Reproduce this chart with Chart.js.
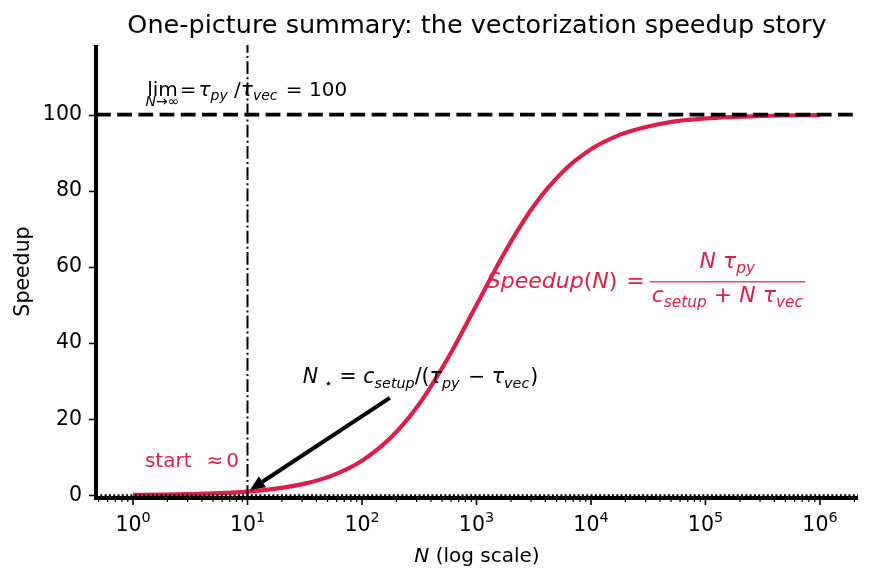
<!DOCTYPE html>
<html>
<head>
<meta charset="utf-8">
<script src="https://cdn.jsdelivr.net/npm/chart.js@4.4.1/dist/chart.umd.min.js"></script>
<style>
  body { margin: 0; background: #fff; }
  canvas { display: block; }
</style>
</head>
<body>
<canvas id="chart" width="869" height="583"></canvas>
<script>
// values
const nValues = [1, 1.778, 3.162, 5.623, 10, 17.78, 31.62, 56.23, 100, 177.8, 316.2, 562.3,
    1000, 1778, 3162, 5623, 1e4, 1.778e4, 3.162e4, 5.623e4, 1e5, 1.778e5, 3.162e5, 5.623e5, 1e6];
const speedupValues = [0.1, 0.18, 0.32, 0.56, 0.99, 1.75, 3.07, 5.32, 9.09, 15.1, 24.0, 36.0,
    50.0, 64.0, 76.0, 84.9, 90.9, 94.7, 96.9, 98.3, 99.0, 99.4, 99.7, 99.8, 99.9];
const limitValue = 100;
const nStar = 10;
const xTicks = [1, 10, 100, 1e3, 1e4, 1e5, 1e6];
const xTickExponents = ['0', '1', '2', '3', '4', '5', '6'];
const yTicks = [0, 20, 40, 60, 80, 100];

const xMin = 0.475, xMax = 2.15e6;
const yMin = -0.7, yMax = 118.3;
const RED = '#dc1e4a';
const FONT = 'DejaVu Sans';

function fnt(size, it) {
    return (it ? 'italic ' : '') + size + 'px "' + FONT + '"';
}
const U = t => ({t: t});
const I = t => ({t: t, it: true});
const S = t => ({t: t, it: true, sub: true});
const G = w => ({gap: w});

function runsWidth(ctx, runs, size) {
    let w = 0;
    for (const r of runs) {
        if (r.gap) { w += r.gap; continue; }
        ctx.font = fnt(r.sub || r.sup ? size * 0.7 : size, r.it);
        w += ctx.measureText(r.t).width;
    }
    return w;
}

function drawRuns(ctx, x, y, runs, size, color) {
    let cx = x;
    ctx.fillStyle = color;
    ctx.textBaseline = 'alphabetic';
    ctx.textAlign = 'left';
    for (const r of runs) {
        if (r.gap) { cx += r.gap; continue; }
        const s = r.sub || r.sup ? size * 0.7 : size;
        ctx.font = fnt(s, r.it);
        const dy = r.sub ? size * 0.22 : (r.sup ? -size * 0.45 : 0);
        ctx.fillText(r.t, cx, y + dy);
        cx += ctx.measureText(r.t).width;
    }
    return cx - x;
}

const decorPlugin = {
    id: 'decor',
    afterDraw(chart) {
        const ctx = chart.ctx;
        const x = chart.scales.x, y = chart.scales.y;
        const a = chart.chartArea;
        ctx.save();

        // spines
        ctx.strokeStyle = '#000';
        ctx.lineWidth = 4;
        ctx.lineCap = 'butt';
        ctx.beginPath();
        ctx.moveTo(a.left, a.top);
        ctx.lineTo(a.left, a.bottom + 2);
        ctx.moveTo(a.left - 2, a.bottom);
        ctx.lineTo(a.right, a.bottom);
        ctx.stroke();

        // tick marks
        ctx.lineWidth = 1.6;
        ctx.beginPath();
        for (const v of yTicks) {
            const py = Math.round(y.getPixelForValue(v)) + 0.5;
            ctx.moveTo(a.left - 7, py);
            ctx.lineTo(a.left, py);
        }
        for (const v of xTicks) {
            const px = x.getPixelForValue(v);
            ctx.moveTo(px, a.bottom);
            ctx.lineTo(px, a.bottom + 7);
        }
        ctx.stroke();
        ctx.lineWidth = 1.2;
        ctx.beginPath();
        for (const d of [0.1].concat(xTicks)) {
            for (let m = 2; m <= 9; m++) {
                const v = d * m;
                if (v < xMin || v > xMax) continue;
                const px = x.getPixelForValue(v);
                ctx.moveTo(px, a.bottom);
                ctx.lineTo(px, a.bottom + 4);
            }
        }
        ctx.stroke();

        // x tick labels as 10 with raised exponent
        xTicks.forEach((v, i) => {
            const lab = [U('10'), {t: xTickExponents[i], sup: true}];
            const lw = runsWidth(ctx, lab, 20.5);
            drawRuns(ctx, x.getPixelForValue(v) - lw / 2, 531, lab, 20.5, '#000');
        });

        // title and axis labels
        ctx.fillStyle = '#000';
        ctx.textAlign = 'center';
        ctx.textBaseline = 'alphabetic';
        ctx.font = fnt(25.5);
        ctx.fillText('One-picture summary: the vectorization speedup story', (a.left + a.right) / 2, 33);

        const xl = [I('N'), U(' (log scale)')];
        const w = runsWidth(ctx, xl, 20);
        drawRuns(ctx, (a.left + a.right) / 2 - w / 2, 562, xl, 20, '#000');

        ctx.save();
        ctx.translate(29, (a.top + a.bottom) / 2);
        ctx.rotate(-Math.PI / 2);
        ctx.textAlign = 'center';
        ctx.font = fnt(20.5);
        ctx.fillStyle = '#000';
        ctx.fillText('Speedup', 0, 0);
        ctx.restore();

        // limit annotation
        let lx = x.getPixelForValue(1.33), ly = y.getPixelForValue(104.9);
        ctx.font = fnt(20);
        ctx.fillStyle = '#000';
        ctx.textAlign = 'left';
        ctx.fillText('lim', lx, ly);
        const limW = ctx.measureText('lim').width;
        const under = [I('N'), U('→∞')];
        const uw = runsWidth(ctx, under, 14);
        drawRuns(ctx, lx + limW / 2 - uw / 2, ly + 10, under, 14, '#000');
        drawRuns(ctx, lx + limW + 2,  ly,
            [U('='), G(2), I('τ'), S('py'), U(' /'), I('τ'), S('vec'), G(2), U(' = 100')], 20, '#000');

        // formula
        const fx = x.getPixelForValue(1230), fy = y.getPixelForValue(56.1);
        const fw = drawRuns(ctx, fx, fy + 6, [I('Speedup'), U('('), I('N'), U(')'), G(9), U('='), G(5)], 22, RED);
        const num = [I('N'), U(' '), I('τ'), S('py')];
        const den = [I('c'), S('setup'), U(' + '), I('N'), U(' '), I('τ'), S('vec')];
        const nw = runsWidth(ctx, num, 22), dw = runsWidth(ctx, den, 22);
        const barW = Math.max(nw, dw) + 4;
        const bx = fx + fw;
        ctx.fillStyle = RED;
        ctx.fillRect(bx, fy - 0.6, barW, 1.2);
        drawRuns(ctx, bx + (barW - nw) / 2, fy - 14, num, 22, RED);
        drawRuns(ctx, bx + (barW - dw) / 2, fy + 20, den, 22, RED);

        // N star annotation
        drawRuns(ctx, x.getPixelForValue(30.4), y.getPixelForValue(29.5),
            [I('N'), G(6), {t: '⋆', sub: true}, U(' = '), I('c'), S('setup'), U('/('), I('τ'), S('py'),
                G(2), U(' − '), I('τ'), S('vec'), G(1), U(')')], 20.5, '#000');

        // arrow
        const tx = x.getPixelForValue(175), ty = y.getPixelForValue(25.6);
        const hx = x.getPixelForValue(10.5), hy = y.getPixelForValue(1.4);
        const ang = Math.atan2(hy - ty, hx - tx);
        const hl = 15, hw = 6.5;
        const bxx = hx - hl * Math.cos(ang), byy = hy - hl * Math.sin(ang);
        ctx.strokeStyle = '#000';
        ctx.lineWidth = 4;
        ctx.beginPath();
        ctx.moveTo(tx, ty);
        ctx.lineTo(bxx, byy);
        ctx.stroke();
        ctx.fillStyle = '#000';
        ctx.beginPath();
        ctx.moveTo(hx, hy);
        ctx.lineTo(bxx + hw * Math.sin(ang), byy - hw * Math.cos(ang));
        ctx.lineTo(bxx - hw * Math.sin(ang), byy + hw * Math.cos(ang));
        ctx.closePath();
        ctx.fill();

        // start text
        drawRuns(ctx, x.getPixelForValue(1.27), y.getPixelForValue(7.4),
            [U('start'), G(15), U('≈'), G(3), U('0')], 20, RED);

        ctx.restore();
    }
};

const curve = nValues.map((n, i) => ({x: n, y: speedupValues[i]}));

new Chart(document.getElementById('chart'), {
    type: 'line',
    data: {
        datasets: [{
            data: [{x: nStar, y: yMin}, {x: nStar, y: yMax}],
            borderColor: '#000',
            borderWidth: 2,
            borderDash: [12.8, 3.2, 2, 3.2],
            pointRadius: 0
        }, {
            data: [{x: xMin, y: limitValue}, {x: xMax, y: limitValue}],
            borderColor: '#000',
            borderWidth: 3.8,
            borderDash: [14.8, 6.4],
            pointRadius: 0
        }, {
            data: [{x: xMin, y: 0}, {x: xMax, y: 0}],
            borderColor: '#000',
            borderWidth: 2,
            borderDash: [2, 2.3],
            pointRadius: 0
        }, {
            data: curve,
            borderColor: RED,
            borderWidth: 4.2,
            cubicInterpolationMode: 'monotone',
            pointRadius: 0
        }]
    },
    options: {
        responsive: false,
        animation: false,
        layout: {padding: {left: 0, top: 45, right: 11, bottom: 0}},
        plugins: {legend: {display: false}, title: {display: false}, tooltip: {enabled: false}},
        scales: {
            x: {
                type: 'logarithmic',
                min: xMin,
                max: xMax,
                afterBuildTicks: s => { s.ticks = xTicks.map(v => ({value: v})); },
                afterFit: s => { s.height = 85; },
                grid: {display: false, drawTicks: false},
                border: {display: false},
                ticks: {display: false}
            },
            y: {
                type: 'linear',
                min: yMin,
                max: yMax,
                afterBuildTicks: s => { s.ticks = yTicks.map(v => ({value: v})); },
                afterFit: s => { s.width = 96; },
                grid: {display: false, drawTicks: false},
                border: {display: false},
                ticks: {
                    padding: 14,
                    color: '#000',
                    font: {family: FONT, size: 20.5},
                    callback: v => String(v)
                }
            }
        }
    },
    plugins: [decorPlugin]
});
</script>
</body>
</html>
